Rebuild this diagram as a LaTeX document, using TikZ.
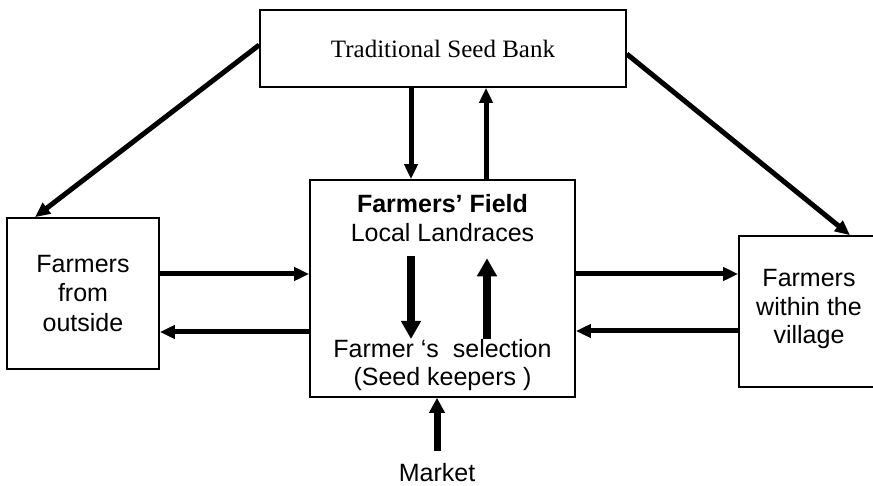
\documentclass[tikz,border=0pt]{standalone}
\usepackage{fontspec}
\setmainfont{Liberation Sans}
\newfontfamily\timesfont{Liberation Serif}
\usetikzlibrary{arrows.meta}

\begin{document}
\begin{tikzpicture}[x=1pt,y=-1pt,font=\fontsize{25}{29.5}\selectfont]
		\tikzset{box/.style = {draw, line width=1.6pt, inner sep=0pt, align=center}}
		\tikzset{lbl/.style = {inner sep=0pt, align=center}}
		\tikzset{flow/.style = {line width=5pt, -{Triangle[length=15pt,width=13pt]}}}
		\tikzset{bigflow/.style = {line width=8pt, -{Triangle[length=18pt,width=19pt]}}}

		\useasboundingbox (0,0) rectangle (873,486);

		\node[box, minimum width=366pt, minimum height=77pt] (bank) at (443,48.5) {\timesfont Traditional Seed Bank};
		\node[box, minimum width=265pt, minimum height=217pt] (field) at (442.5,288.5) {};
		\node[box, minimum width=152pt, minimum height=151pt] (outside) at (83,293.5) {Farmers\\from\\outside};
		\node[box, minimum width=170pt, minimum height=151pt] (village) at (824,311.5) {};
		\node[lbl, font=\fontsize{25}{28.5}\selectfont] (villtext) at (809,309) {Farmers\\within the\\village};

		\node[lbl, anchor=north] (land) at (442.5,194) {\textbf{Farmers’ Field}\\Local Landraces};
		\node[lbl, anchor=north, font=\fontsize{25}{28}\selectfont] (keep) at (442.5,339) {Farmer ‘s\ \ selection\\(Seed keepers )};
		\node[lbl] (market) at (437,473) {Market};

		% seed bank links
		\draw[flow] ([yshift=3.5pt]bank.west) -- ([xshift=-48pt]outside.north);
		\draw[flow] ([yshift=-5.5pt]bank.east) -- ([xshift=26pt]village.north);
		\draw[flow] ([xshift=-32pt]bank.south) -- ([xshift=-32pt]bank.south |- field.north);
		\draw[flow] ([xshift=43pt]bank.south |- field.north) -- ([xshift=43pt]bank.south);

		% exchange between farmers
		\draw[flow] ([yshift=14.5pt]field.west -| outside.east) -- ([yshift=14.5pt]field.west);
		\draw[flow] ([yshift=-43.5pt]field.west) -- ([yshift=-43.5pt]field.west -| outside.east);
		\draw[flow] ([yshift=14.5pt]field.east) -- ([yshift=14.5pt]field.east -| village.west);
		\draw[flow] ([yshift=-42.5pt]field.east -| village.west) -- ([yshift=-42.5pt]field.east);

		% selection inside the field
		\draw[bigflow, shorten <=14pt] ([xshift=-31.5pt]land.south) -- ([xshift=-31.5pt]keep.north);
		\draw[bigflow, shorten >=16pt] ([xshift=44.5pt]keep.north) -- ([xshift=44.5pt]land.south);

		\draw[flow, line width=7pt, -{Triangle[length=15pt,width=15pt]}, shorten <=13pt] (market.north) -- (market.north |- field.south);

	\end{tikzpicture}
\end{document}
